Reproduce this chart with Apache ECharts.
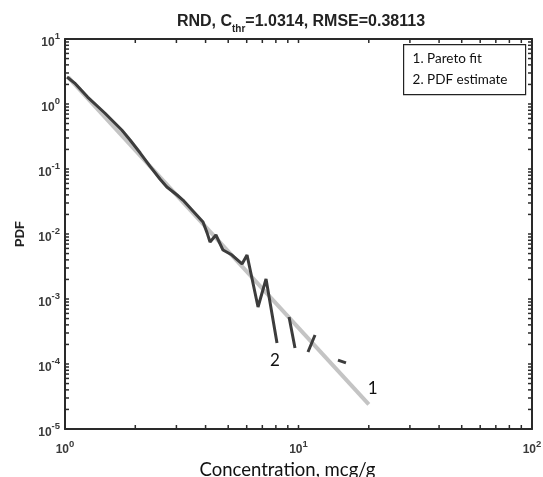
<!DOCTYPE html>
<html>
<head>
<meta charset="utf-8">
<script src="https://cdn.jsdelivr.net/npm/echarts@6/dist/echarts.min.js"></script>
<style>
  html, body { margin: 0; padding: 0; background: #fff; }
  #chart { width: 543px; height: 477px; }
</style>
</head>
<body>
<div id="chart"></div>
<script>
// ---- data ----
const pdfX = [1.02, 1.10, 1.25, 1.48, 1.75, 1.90, 2.10, 2.31, 2.55, 2.73, 3.02, 3.20, 3.50, 3.90, 4.06, 4.18, 4.43, 4.75, 5.19, 5.73, 6.02, 6.71, 7.26, 8.09, 8.6, 9.11, 9.66, 10.3, 10.98, 11.77, 13.2, 14.76, 15.97];
const pdfY = [2.60, 2.10, 1.28, 0.727, 0.398, 0.279, 0.176, 0.111, 0.0702, 0.0528, 0.0398, 0.0333, 0.0234, 0.0153, 0.0104, 0.00753, 0.00965, 0.00567, 0.00475, 0.00346, 0.00475, 0.000753, 0.00203, 0.000210, null, 0.000529, 0.000176, null, 0.000153, 0.000279, null, 0.000115, 0.000104];
const fitX = [1.0314, 20];
const fitY = [2.6, 2.4e-5];
const xMajor = [1, 10, 100];
const yMajor = [1e-5, 1e-4, 1e-3, 1e-2, 1e-1, 1, 10];
const legendItems = ['1. Pareto fit', '2. PDF estimate'];
const titleParts = ['RND, C', 'thr', '=1.0314, RMSE=0.38113'];
const xName = 'Concentration, mcg/g';
const yName = 'PDF';
const X_MIN = 1, X_MAX = 100, Y_MIN = 1e-5, Y_MAX = 10;

// tick positions at 1..9 x 10^k
function decadeTicks(lo, hi) {
  const out = [];
  for (let p = lo; p < hi; p++) {
    for (let m = 1; m <= 9; m++) out.push(m * Math.pow(10, p));
  }
  out.push(Math.pow(10, hi));
  return out;
}
const xTicks = decadeTicks(0, 2);
const yTicks = decadeTicks(-5, 1);

const pdfData = pdfX.map((x, i) => [x, pdfY[i] === null ? '-' : pdfY[i]]);
const fitData = fitX.map((x, i) => [x, fitY[i]]);

function expLabel(v) {
  const e = Math.round(Math.log10(v));
  return '{b|10}{e|' + e + '}';
}
const richExp = {
  b: { fontSize: 12, fontWeight: 'bold', color: '#3a3a3a', fontFamily: 'Liberation Sans, Arial', lineHeight: 17, verticalAlign: 'bottom' },
  e: { fontSize: 9.5, fontWeight: 'bold', color: '#3a3a3a', fontFamily: 'Liberation Sans, Arial', lineHeight: 11, verticalAlign: 'top' }
};

const axisLineStyle = { color: '#2a2a2a', width: 2 };
const TICK_LEN = 4;

const legendGroup = {
  id: 'legendBox', type: 'group', left: 403, top: 44,
  children: [
    { type: 'rect', shape: { x: 0, y: 0, width: 122, height: 50 }, style: { fill: '#fff', stroke: '#222', lineWidth: 1.2 } },
    { type: 'text', x: 9, y: 7, style: { text: legendItems[0], fontSize: 13.5, fill: '#111', fontFamily: 'Lato, sans-serif' } },
    { type: 'text', x: 9, y: 28, style: { text: legendItems[1], fontSize: 13.5, fill: '#111', fontFamily: 'Lato, sans-serif' } }
  ]
};

const chart = echarts.init(document.getElementById('chart'), null, { renderer: 'canvas' });
chart.setOption({
  backgroundColor: '#ffffff',
  animation: false,
  title: {
    text: '{t|' + titleParts[0] + '}{s|' + titleParts[1] + '}{t|' + titleParts[2] + '}',
    left: 296, top: 9, textAlign: 'center',
    textStyle: {
      rich: {
        t: { fontSize: 16, fontWeight: 'bold', color: '#222', fontFamily: 'Liberation Sans, Arial', lineHeight: 20, verticalAlign: 'top' },
        s: { fontSize: 10, fontWeight: 'bold', color: '#222', fontFamily: 'Liberation Sans, Arial', lineHeight: 10, verticalAlign: 'bottom' }
      }
    }
  },
  grid: { left: 65, right: 11, top: 39, bottom: 48, containLabel: false, outerBoundsMode: 'none' },
  xAxis: [
    {
      type: 'log', logBase: 10, min: X_MIN, max: X_MAX, position: 'bottom',
      name: xName, nameLocation: 'middle', nameGap: 25,
      nameTextStyle: { fontSize: 18.5, color: '#111', fontFamily: 'Lato, Open Sans, sans-serif', padding: [0, 22, 0, 0] },
      axisLine: { show: true, onZero: false, lineStyle: axisLineStyle },
      axisTick: { show: false },
      axisLabel: { show: true, margin: 10, customValues: xMajor, formatter: expLabel, rich: richExp },
      splitLine: { show: false }, minorTick: { show: false }
    },
    {
      type: 'log', logBase: 10, min: X_MIN, max: X_MAX, position: 'top',
      axisLine: { show: true, onZero: false, lineStyle: axisLineStyle },
      axisTick: { show: false },
      axisLabel: { show: false }, splitLine: { show: false }
    }
  ],
  yAxis: [
    {
      type: 'log', logBase: 10, min: Y_MIN, max: Y_MAX, position: 'left',
      name: yName, nameLocation: 'middle', nameGap: 34, nameRotate: 90,
      nameTextStyle: { fontSize: 13, fontWeight: 'bold', color: '#222', fontFamily: 'Liberation Sans, Arial' },
      axisLine: { show: true, onZero: false, lineStyle: axisLineStyle },
      axisTick: { show: false },
      axisLabel: { show: true, margin: 5, padding: [2, 0, 0, 0], customValues: yMajor, formatter: expLabel, rich: richExp },
      splitLine: { show: false }
    },
    {
      type: 'log', logBase: 10, min: Y_MIN, max: Y_MAX, position: 'right',
      axisLine: { show: true, onZero: false, lineStyle: axisLineStyle },
      axisTick: { show: false },
      axisLabel: { show: false }, splitLine: { show: false }
    }
  ],
  series: [
    {
      name: legendItems[0], type: 'line', data: fitData, showSymbol: false, symbol: 'none',
      xAxisIndex: 0, yAxisIndex: 0,
      lineStyle: { color: '#c4c4c4', width: 4 }, z: 2,
      markPoint: {
        symbol: 'circle', symbolSize: 0,
        label: { show: true, formatter: '1', fontSize: 17, color: '#111', fontFamily: 'Lato, sans-serif', offset: [4, -16] },
        data: [{ coord: fitData[fitData.length - 1] }]
      }
    },
    {
      name: legendItems[1], type: 'line', data: pdfData, showSymbol: false, symbol: 'none', connectNulls: false,
      xAxisIndex: 0, yAxisIndex: 0,
      lineStyle: { color: '#3c3c3c', width: 3 }, z: 3,
      markPoint: {
        symbol: 'circle', symbolSize: 0,
        label: { show: true, formatter: '2', fontSize: 17, color: '#111', fontFamily: 'Lato, sans-serif', offset: [-2, 17] },
        data: [{ coord: [pdfX[23], pdfY[23]] }]
      }
    }
  ],
  graphic: [legendGroup]
});

// inward ticks on all four sides, placed through the chart's own log scales
try {
  const tickEls = [];
  xTicks.forEach((v, i) => {
    const pb = chart.convertToPixel({ gridIndex: 0 }, [v, Y_MIN]);
    const pt = chart.convertToPixel({ gridIndex: 0 }, [v, Y_MAX]);
    tickEls.push({ id: 'xb' + i, type: 'line', z: 50, silent: true,
      shape: { x1: pb[0], y1: pb[1], x2: pb[0], y2: pb[1] - TICK_LEN },
      style: { stroke: '#2a2a2a', lineWidth: 1.5 } });
    tickEls.push({ id: 'xt' + i, type: 'line', z: 50, silent: true,
      shape: { x1: pt[0], y1: pt[1], x2: pt[0], y2: pt[1] + TICK_LEN },
      style: { stroke: '#2a2a2a', lineWidth: 1.5 } });
  });
  yTicks.forEach((v, i) => {
    const pl = chart.convertToPixel({ gridIndex: 0 }, [X_MIN, v]);
    const pr = chart.convertToPixel({ gridIndex: 0 }, [X_MAX, v]);
    tickEls.push({ id: 'yl' + i, type: 'line', z: 50, silent: true,
      shape: { x1: pl[0], y1: pl[1], x2: pl[0] + TICK_LEN, y2: pl[1] },
      style: { stroke: '#2a2a2a', lineWidth: 1.5 } });
    tickEls.push({ id: 'yr' + i, type: 'line', z: 50, silent: true,
      shape: { x1: pr[0], y1: pr[1], x2: pr[0] - TICK_LEN, y2: pr[1] },
      style: { stroke: '#2a2a2a', lineWidth: 1.5 } });
  });
  chart.setOption({ graphic: [legendGroup].concat(tickEls) });
} catch (err) {
  console.error(err);
}
</script>
</body>
</html>
